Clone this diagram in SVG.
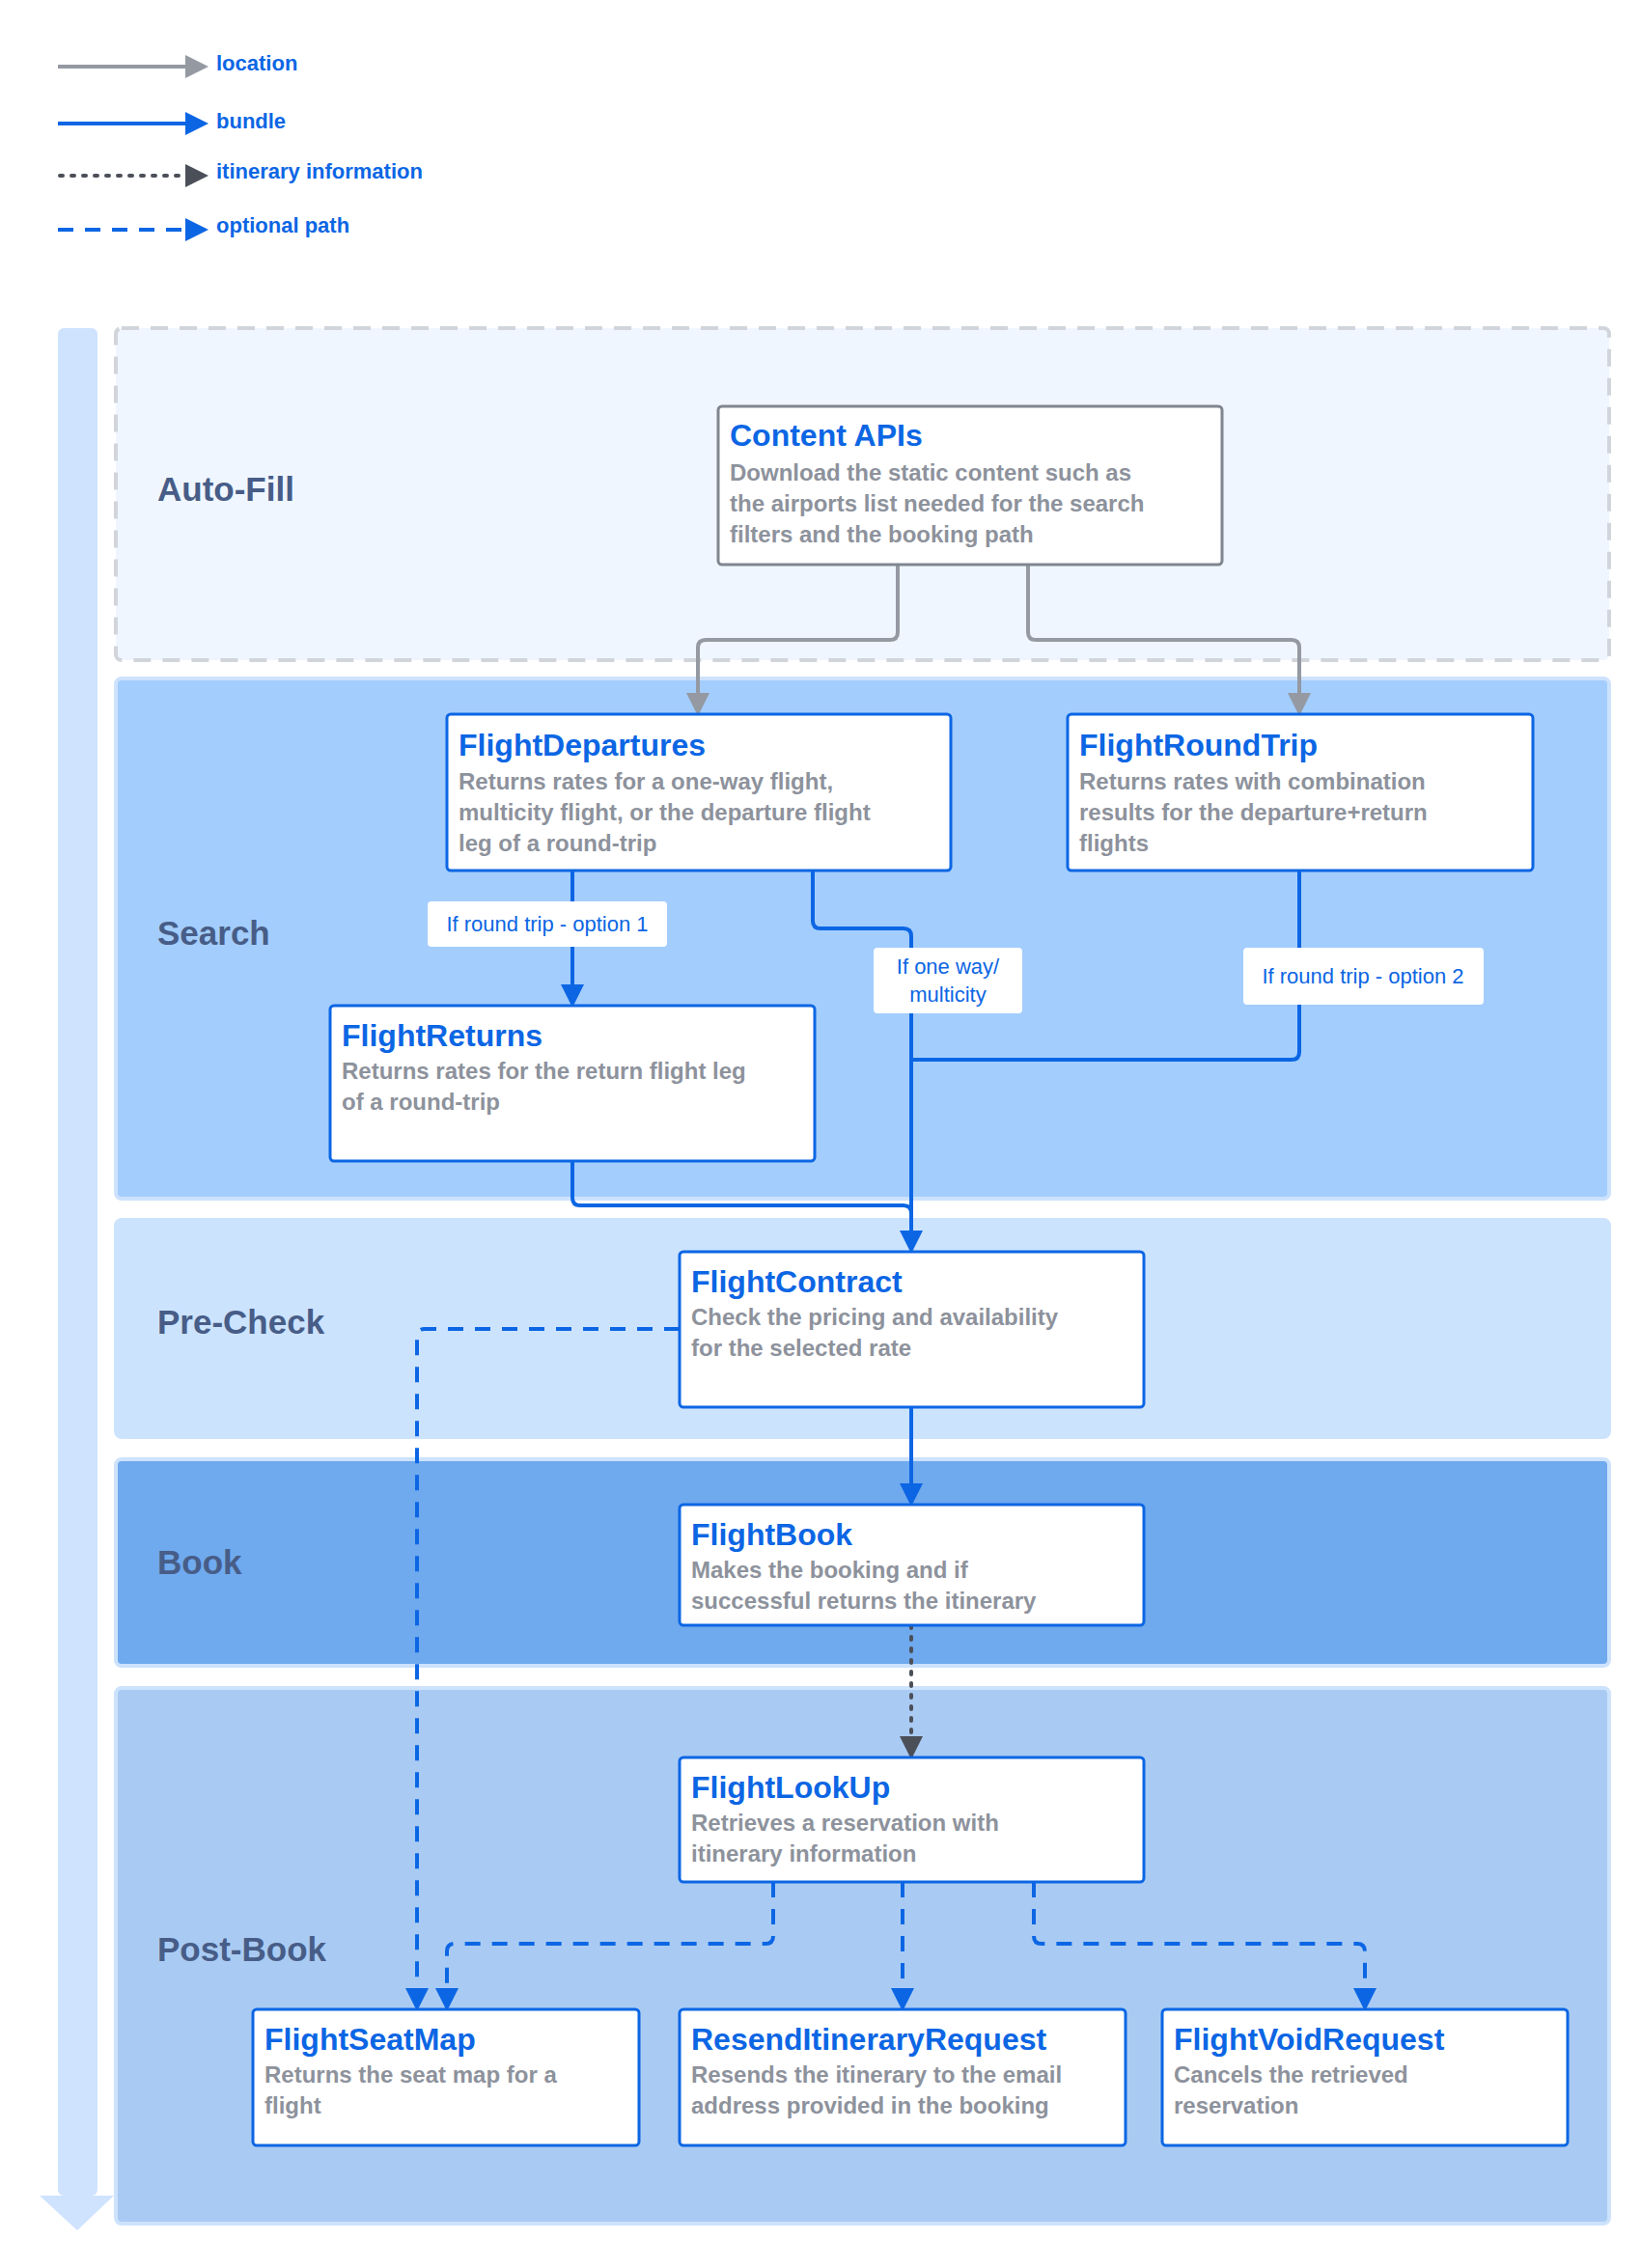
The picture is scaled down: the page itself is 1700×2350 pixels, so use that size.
<svg xmlns="http://www.w3.org/2000/svg" width="1700" height="2350" viewBox="0 0 1700 2350">
<style>
.lane{stroke-width:4}
.ll{font-family:"Liberation Sans",Arial,sans-serif;font-weight:bold;font-size:35px;fill:#475d87}
.box{fill:#fff;stroke:#0c66e4;stroke-width:3}
.t{font-family:"Liberation Sans",Arial,sans-serif;font-weight:bold;font-size:32px;fill:#0c66e4}
.d{font-family:"Liberation Sans",Arial,sans-serif;font-weight:bold;font-size:24px;fill:#8d929c}
.lg{font-family:"Liberation Sans",Arial,sans-serif;font-weight:bold;font-size:22px;fill:#0c66e4}
.lab{font-family:"Liberation Sans",Arial,sans-serif;font-size:22px;fill:#0c66e4}
.lb{fill:#fff}
.c{fill:none;stroke-width:4;stroke-linejoin:round}
.gray{stroke:#9499a2;marker-end:url(#ag)}
.blue{stroke:#0c66e4;marker-end:url(#ab)}
.opt{stroke:#0c66e4;stroke-dasharray:16 12;marker-end:url(#ab)}
.dot{stroke:#4b4f58;stroke-dasharray:3 9;stroke-linecap:round;marker-end:url(#ad)}
</style>
<defs>
<marker id="ag" markerWidth="6" markerHeight="6" refX="5" refY="3" orient="auto" markerUnits="strokeWidth"><path d="M0,0L6,3L0,6z" fill="#9499a2"/></marker>
<marker id="ab" markerWidth="6" markerHeight="6" refX="5" refY="3" orient="auto" markerUnits="strokeWidth"><path d="M0,0L6,3L0,6z" fill="#0c66e4"/></marker>
<marker id="ad" markerWidth="6" markerHeight="6" refX="5" refY="3" orient="auto" markerUnits="strokeWidth"><path d="M0,0L6,3L0,6z" fill="#4b4f58"/></marker>
</defs>
<rect width="1700" height="2350" fill="#fff"/>
<g id="legend">
<path class="c gray" d="M60,69H212"/><text class="lg" x="224" y="73">location</text>
<path class="c blue" d="M60,128H212"/><text class="lg" x="224" y="133">bundle</text>
<path class="c dot" d="M62,182H212"/><text class="lg" x="224" y="185">itinerary information</text>
<path class="c opt" d="M60,238H212"/><text class="lg" x="224" y="241">optional path</text>
</g>
<g id="timeline">
<rect x="60" y="340" width="41" height="1935" rx="6" fill="#cfe3fe"/>
<path d="M41,2275H118L80,2311z" fill="#cfe3fe"/>
</g>
<g id="lanes">
<rect class="lane" x="120" y="340" width="1547" height="344" rx="6" fill="#eff6ff" stroke="#d1d5db" stroke-dasharray="18 12"/>
<text class="ll" x="163" y="519">Auto-Fill</text>
<rect class="lane" x="120" y="703" width="1547" height="539" rx="6" fill="#a3cdfd" stroke="#cde2fc"/>
<text class="ll" x="163" y="979">Search</text>
<rect class="lane" x="120" y="1264" width="1547" height="225" rx="6" fill="#cce3fe" stroke="#cce3fe"/>
<text class="ll" x="163" y="1382">Pre-Check</text>
<rect class="lane" x="120" y="1512" width="1547" height="214" rx="6" fill="#6fa9ee" stroke="#cde2fc"/>
<text class="ll" x="163" y="1631">Book</text>
<rect class="lane" x="120" y="1749" width="1547" height="555" rx="6" fill="#a9cbf3" stroke="#cde2fc"/>
<text class="ll" x="163" y="2032">Post-Book</text>
</g>
<g id="connectors">
<path class="c gray" d="M930,585V655Q930,663 922,663H731Q723,663 723,671V738"/>
<path class="c gray" d="M1065,585V655Q1065,663 1073,663H1338Q1346,663 1346,671V738"/>
<path class="c blue" d="M593,902V1040"/>
<path class="c blue" d="M842,902V954Q842,962 850,962H936Q944,962 944,970V1295"/>
<path class="c" stroke="#0c66e4" d="M1346,902V1090Q1346,1098 1338,1098H944"/>
<path class="c" stroke="#0c66e4" d="M593,1203V1241Q593,1249 601,1249H936Q944,1249 944,1257"/>
<path class="c blue" d="M944,1458V1557"/>
<path class="c dot" d="M944,1684V1819"/>
<path class="c opt" d="M704,1377H440Q432,1377 432,1385V2080"/>
<path class="c opt" d="M801,1950V2006Q801,2014 793,2014H471Q463,2014 463,2022V2080"/>
<path class="c opt" d="M935,1950V2080"/>
<path class="c opt" d="M1071,1950V2006Q1071,2014 1079,2014H1406Q1414,2014 1414,2022V2080"/>
<rect class="lb" x="443" y="934" width="248" height="47" rx="4"/>
<text class="lab" x="567" y="965" text-anchor="middle">If round trip - option 1</text>
<rect class="lb" x="905" y="982" width="154" height="68" rx="4"/>
<text class="lab" x="982" y="1009" text-anchor="middle">If one way/</text>
<text class="lab" x="982" y="1038" text-anchor="middle">multicity</text>
<rect class="lb" x="1288" y="982" width="249" height="59" rx="4"/>
<text class="lab" x="1412" y="1019" text-anchor="middle">If round trip - option 2</text>
</g>
<g id="content-apis">
<rect x="744" y="421" width="522" height="164" rx="4" fill="#fff" stroke="#80868f" stroke-width="3"/>
<text class="t" x="756" y="462">Content APIs</text>
<text class="d" x="756" y="498">Download the static content such as</text>
<text class="d" x="756" y="530">the airports list needed for the search</text>
<text class="d" x="756" y="562">filters and the booking path</text>
</g>
<g id="flight-departures">
<rect class="box" x="463" y="740" width="522" height="162" rx="4"/>
<text class="t" x="475" y="783">FlightDepartures</text>
<text class="d" x="475" y="818">Returns rates for a one-way flight,</text>
<text class="d" x="475" y="850">multicity flight, or the departure flight</text>
<text class="d" x="475" y="882">leg of a round-trip</text>
</g>
<g id="flight-round-trip">
<rect class="box" x="1106" y="740" width="482" height="162" rx="4"/>
<text class="t" x="1118" y="783">FlightRoundTrip</text>
<text class="d" x="1118" y="818">Returns rates with combination</text>
<text class="d" x="1118" y="850">results for the departure+return</text>
<text class="d" x="1118" y="882">flights</text>
</g>
<g id="flight-returns">
<rect class="box" x="342" y="1042" width="502" height="161" rx="4"/>
<text class="t" x="354" y="1084">FlightReturns</text>
<text class="d" x="354" y="1118">Returns rates for the return flight leg</text>
<text class="d" x="354" y="1150">of a round-trip</text>
</g>
<g id="flight-contract">
<rect class="box" x="704" y="1297" width="481" height="161" rx="4"/>
<text class="t" x="716" y="1339">FlightContract</text>
<text class="d" x="716" y="1373">Check the pricing and availability</text>
<text class="d" x="716" y="1405">for the selected rate</text>
</g>
<g id="flight-book">
<rect class="box" x="704" y="1559" width="481" height="125" rx="4"/>
<text class="t" x="716" y="1601">FlightBook</text>
<text class="d" x="716" y="1635">Makes the booking and if</text>
<text class="d" x="716" y="1667">successful returns the itinerary</text>
</g>
<g id="flight-lookup">
<rect class="box" x="704" y="1821" width="481" height="129" rx="4"/>
<text class="t" x="716" y="1863">FlightLookUp</text>
<text class="d" x="716" y="1897">Retrieves a reservation with</text>
<text class="d" x="716" y="1929">itinerary information</text>
</g>
<g id="flight-seat-map">
<rect class="box" x="262" y="2082" width="400" height="141" rx="4"/>
<text class="t" x="274" y="2124">FlightSeatMap</text>
<text class="d" x="274" y="2158">Returns the seat map for a</text>
<text class="d" x="274" y="2190">flight</text>
</g>
<g id="resend-itinerary-request">
<rect class="box" x="704" y="2082" width="462" height="141" rx="4"/>
<text class="t" x="716" y="2124">ResendItineraryRequest</text>
<text class="d" x="716" y="2158">Resends the itinerary to the email</text>
<text class="d" x="716" y="2190">address provided in the booking</text>
</g>
<g id="flight-void-request">
<rect class="box" x="1204" y="2082" width="420" height="141" rx="4"/>
<text class="t" x="1216" y="2124">FlightVoidRequest</text>
<text class="d" x="1216" y="2158">Cancels the retrieved</text>
<text class="d" x="1216" y="2190">reservation</text>
</g>
</svg>
